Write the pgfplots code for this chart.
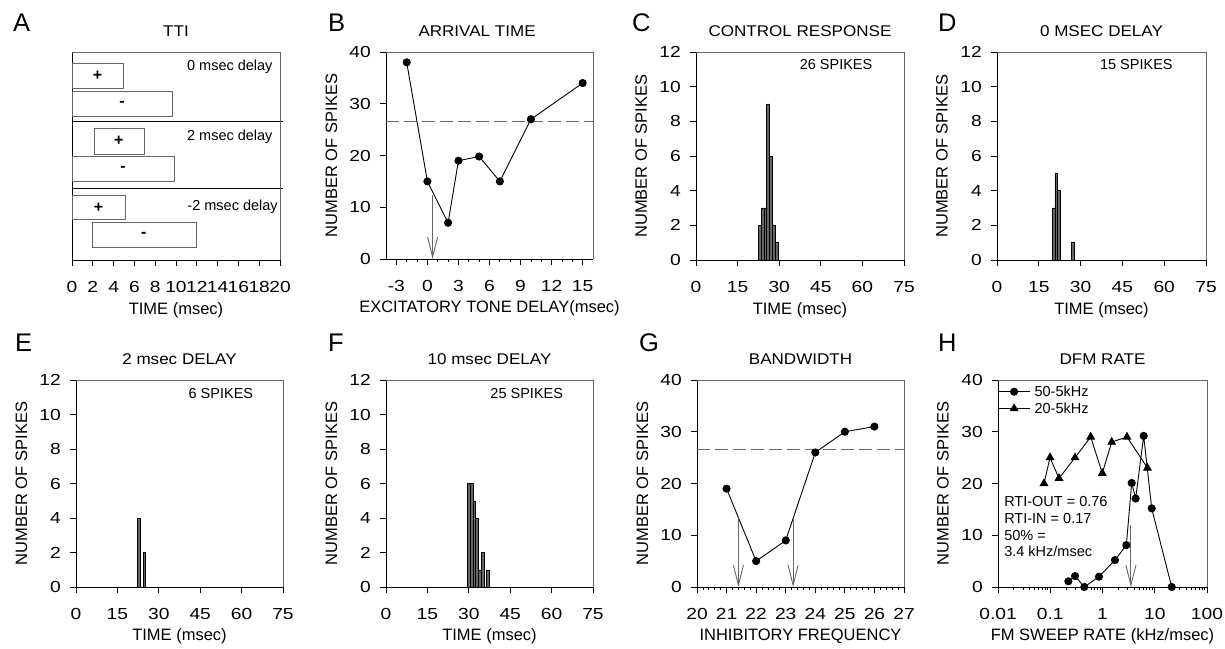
\documentclass[border=0pt]{standalone}
\usepackage{fontspec}
\setmainfont{Liberation Sans}
\newfontfamily\tickf{Liberation Sans}[FakeStretch=1.2]
\newfontfamily\titf{Liberation Sans}[FakeStretch=1.1]
\usepackage{pgfplots}
\pgfplotsset{compat=1.18}
\usetikzlibrary{arrows.meta}

\definecolor{boxgray}{gray}{0.4}
\definecolor{bargray}{gray}{0.4}

\pgfplotsset{
  panel/.style={
    scale only axis, width=208pt, height=208pt, anchor=south west,
    axis x line*=bottom, axis y line*=left,
    axis line style={line width=0.8pt,-},
    xtick pos=bottom, ytick pos=left,
    tick align=outside,
    major tick length=6pt, minor tick length=3pt,
    tick style={line width=0.8pt, black},
    /pgf/number format/assume math mode=true,
    ticklabel style={font=\tickf\fontsize{16}{16}\selectfont},
    xticklabel style={anchor=north, inner sep=0pt, yshift=-15pt},
    yticklabel style={anchor=east, inner sep=0pt, xshift=-9pt},
    label style={font=\fontsize{16.5}{18}\selectfont},
    xlabel style={at={(axis description cs:0.5,-0.24)}, anchor=center},
    ylabel style={at={(axis description cs:-0.264,0.5)}, anchor=center},
    title style={at={(axis description cs:0.5,1.072)}, anchor=center,
      font=\titf\fontsize{15.5}{16}\selectfont},
    clip=false,
    extra description/.code={
      \draw[boxgray, line width=0.8pt] (axis description cs:0,1) -- (axis description cs:1,1) -- (axis description cs:1,0);
    },
  },
  hist/.style={ybar, bar width=1, fill=bargray, draw=black, line width=0.5pt},
  dots/.style={black, line width=0.9pt, mark=*, mark size=3.6pt},
  thresh/.style={boxgray, line width=0.8pt, dash pattern=on 13pt off 5pt},
}
\tikzset{
  arr/.style={boxgray, line width=0.9pt, -{Straight Barb[length=20pt,width=10pt]}},
  note/.style={font=\fontsize{14.5}{16.7}\selectfont, inner sep=0pt},
  letter/.style={font=\fontsize{25.5}{26}\selectfont, inner sep=0pt, anchor=base west},
}

\begin{document}
\begin{tikzpicture}
\useasboundingbox (0,0) rectangle (1225pt,648pt);

% A: TTI schematic
\begin{axis}[panel, at={(72pt,388pt)},
  xmin=0, xmax=20, xtick={0,2,...,20},
  ymin=0, ymax=208, ytick=\empty,
  title={TTI}, xlabel={TIME (msec)}]
\draw[boxgray] (axis cs:0,172) rectangle (axis cs:4.9,197);
\draw[boxgray] (axis cs:0,144) rectangle (axis cs:9.6,169);
\draw[boxgray] (axis cs:2.1,106) rectangle (axis cs:6.95,132);
\draw[boxgray] (axis cs:0,79) rectangle (axis cs:9.8,104);
\draw[boxgray] (axis cs:0,40.7) rectangle (axis cs:5.1,64.3);
\draw[boxgray] (axis cs:1.95,12.7) rectangle (axis cs:11.9,37.3);
\node[font=\bfseries\fontsize{16}{16}\selectfont] at (axis cs:2.45,184.5) {+};
\node[font=\bfseries\fontsize{16}{16}\selectfont] at (axis cs:4.8,156.5) {-};
\node[font=\bfseries\fontsize{16}{16}\selectfont] at (axis cs:4.5,119) {+};
\node[font=\bfseries\fontsize{16}{16}\selectfont] at (axis cs:4.9,91.5) {-};
\node[font=\bfseries\fontsize{16}{16}\selectfont] at (axis cs:2.55,52.5) {+};
\node[font=\bfseries\fontsize{16}{16}\selectfont] at (axis cs:6.9,25) {-};
\draw[black, line width=0.8pt] (axis cs:0,139) -- (axis cs:20.3,139);
\draw[black, line width=0.8pt] (axis cs:0,72) -- (axis cs:20.3,72);
\node[note, anchor=east] at (axis cs:19.3,193) {0 msec delay};
\node[note, anchor=east] at (axis cs:19.3,123) {2 msec delay};
\node[note, anchor=east] at (axis cs:19.8,53) {-2 msec delay};
\end{axis}

% B: arrival time
\begin{axis}[panel, at={(386pt,389pt)}, width=207pt, height=207pt,
  xmin=-4, xmax=16, xtick={-3,0,...,15}, minor x tick num=2,
  ymin=0, ymax=40, ytick={0,10,...,40},
  title={ARRIVAL TIME}, title style={at={(axis description cs:0.44,1.072)}},
  xlabel={EXCITATORY TONE DELAY(msec)}, ylabel={NUMBER OF SPIKES}]
\addplot[thresh] coordinates {(-4,26.5) (16,26.5)};
\addplot[dots] coordinates {(-2,38) (0,15) (2,7) (3,19) (5,19.8) (7,15) (10,27) (15,34)};
\draw[arr] (axis cs:0.5,12.4) -- (axis cs:0.5,0);
\end{axis}

% C: control response
\begin{axis}[panel, at={(696pt,388pt)},
  xmin=0, xmax=75, xtick={0,15,...,75},
  ymin=0, ymax=12, ytick={0,2,...,12},
  title={CONTROL RESPONSE}, xlabel={TIME (msec)}, ylabel={NUMBER OF SPIKES}]
\addplot[hist] coordinates {(23,2) (24,3) (25,3) (26,9) (27,6) (28,2) (29,1)};
\node[note] at (axis cs:50.5,11.25) {26 SPIKES};
\end{axis}

% D: 0 msec delay
\begin{axis}[panel, at={(997pt,388pt)}, width=209pt,
  xmin=0, xmax=75, xtick={0,15,...,75},
  ymin=0, ymax=12, ytick={0,2,...,12},
  title={0 MSEC DELAY}, xlabel={TIME (msec)}, ylabel={NUMBER OF SPIKES}]
\addplot[hist, bar width=0.9] coordinates {(20.3,3) (21.2,5) (22.1,4) (27.2,1)};
\node[note] at (axis cs:50,11.25) {15 SPIKES};
\end{axis}

% E: 2 msec delay
\begin{axis}[panel, at={(76pt,61pt)}, width=207pt, height=207pt,
  xmin=0, xmax=75, xtick={0,15,...,75},
  ymin=0, ymax=12, ytick={0,2,...,12},
  title={2 msec DELAY}, xlabel={TIME (msec)}, ylabel={NUMBER OF SPIKES}]
\addplot[hist, bar width=0.85] coordinates {(22.75,4) (24.75,2)};
\node[note] at (axis cs:52.5,11.2) {6 SPIKES};
\end{axis}

% F: 10 msec delay
\begin{axis}[panel, at={(386pt,61pt)}, width=207pt, height=207pt,
  xmin=0, xmax=75, xtick={0,15,...,75},
  ymin=0, ymax=12, ytick={0,2,...,12},
  title={10 msec DELAY}, xlabel={TIME (msec)}, ylabel={NUMBER OF SPIKES}]
\addplot[hist] coordinates {(30,6) (31,6) (32,5) (33,4) (34,1) (35,2) (37,1)};
\node[note] at (axis cs:51,11.2) {25 SPIKES};
\end{axis}

% G: bandwidth
\begin{axis}[panel, at={(697pt,61pt)}, width=207pt, height=207pt,
  xmin=20, xmax=27, xtick={20,...,27}, minor x tick num=4,
  ymin=0, ymax=40, ytick={0,10,...,40},
  title={BANDWIDTH}, xlabel={INHIBITORY FREQUENCY}, ylabel={NUMBER OF SPIKES}]
\addplot[thresh] coordinates {(20,26.5) (27,26.5)};
\addplot[dots] coordinates {(21,19) (22,5) (23,9) (24,26) (25,30) (26,31)};
\draw[arr] (axis cs:21.4,13.4) -- (axis cs:21.4,0);
\draw[arr] (axis cs:23.25,13.4) -- (axis cs:23.25,0);
\end{axis}

% H: FM rate
\begin{axis}[panel, at={(998pt,61pt)}, width=209pt, height=207pt,
  xmode=log, xmin=0.01, xmax=100,
  xtick={0.01,0.1,1,10,100}, xticklabels={0.01,0.1,1,10,100},
  ymin=0, ymax=40, ytick={0,10,...,40},
  title={DFM RATE}, xlabel={FM SWEEP RATE (kHz/msec)}, ylabel={NUMBER OF SPIKES},
  legend style={at={(axis description cs:0.0,0.985)}, anchor=north west,
    draw=none, fill=none, inner sep=0pt, font=\fontsize{14.5}{15}\selectfont,
    nodes={inner ysep=2.4pt, inner xsep=4.5pt}},
  legend cell align=left,
  legend image code/.code={\draw[mark repeat=2,mark phase=2,#1] plot coordinates {(0pt,0pt) (15.5pt,0pt) (31pt,0pt)};}]
\addplot[dots] coordinates {(0.222,1.1) (0.298,2.1) (0.449,0) (0.857,2) (1.73,5.2) (2.86,8.1) (3.62,20.1) (4.31,17.1) (6.14,29.2) (8.74,15.2) (21.1,0)};
\addlegendentry{50-5kHz}
\addplot[black, line width=0.9pt, mark=triangle*, mark size=4.3pt] coordinates {(0.0759,20) (0.099,25) (0.147,21) (0.298,25) (0.594,29) (0.99,22) (1.5,28) (2.94,29) (7.26,23)};
\addlegendentry{20-5kHz}
\draw[arr] (axis cs:3.5,11.9) -- (axis cs:3.5,0);
\node[note, anchor=north west, align=left] at (axis description cs:0.029,0.437) {RTI-OUT = 0.76\\RTI-IN = 0.17\\50\% =\\3.4 kHz/msec};
\end{axis}

\node[letter] at (13pt,616pt) {A};
\node[letter] at (328pt,616pt) {B};
\node[letter] at (632pt,616pt) {C};
\node[letter] at (938pt,616pt) {D};
\node[letter] at (15pt,296pt) {E};
\node[letter] at (328pt,296pt) {F};
\node[letter] at (639pt,296pt) {G};
\node[letter] at (938pt,296pt) {H};
\end{tikzpicture}
\end{document}
